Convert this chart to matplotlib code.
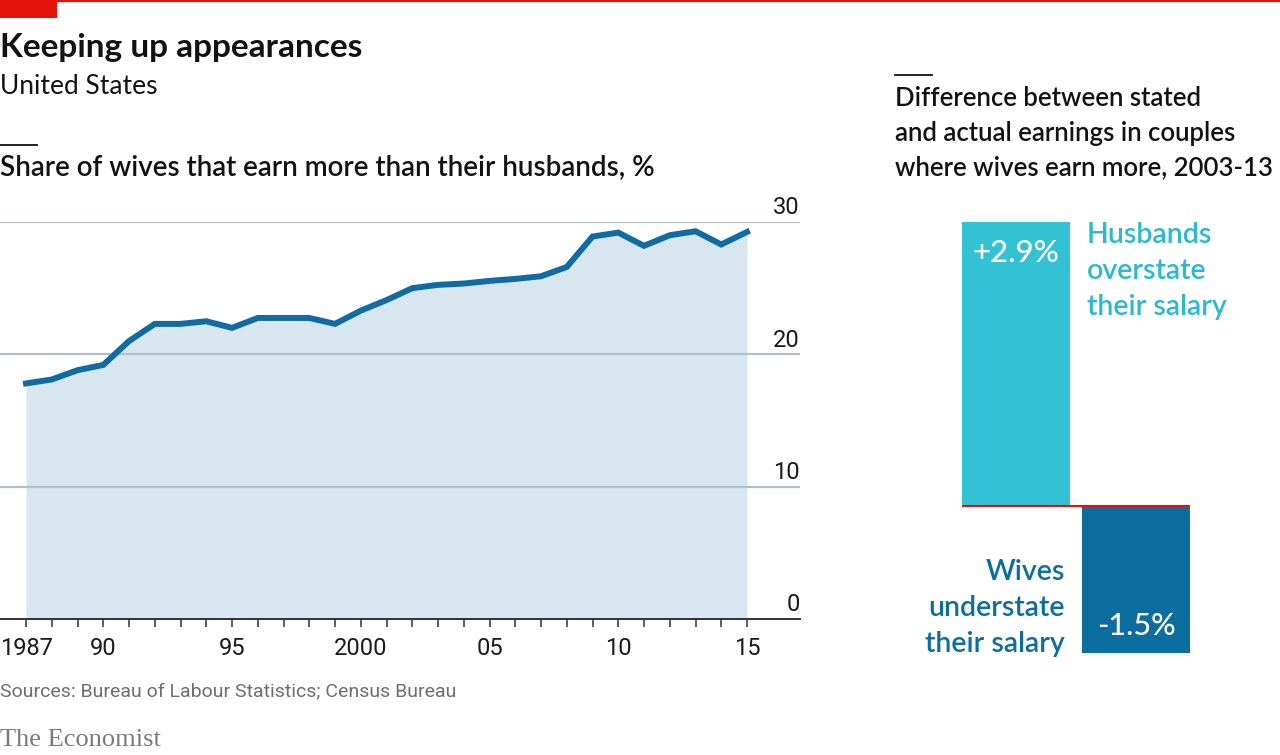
import matplotlib
matplotlib.use("Agg")
import matplotlib.pyplot as plt
from matplotlib.lines import Line2D
from matplotlib.patches import Rectangle

# data
years = list(range(1987, 2016))
share = [17.8, 18.1, 18.8, 19.2, 21.0, 22.3, 22.3, 22.5, 22.0, 22.75,
         22.75, 22.75, 22.3, 23.3, 24.1, 25.0, 25.25, 25.35, 25.55, 25.7,
         25.9, 26.6, 28.9, 29.2, 28.2, 29.0, 29.3, 28.3, 29.25]
tick_years = [1987, 1990, 1995, 2000, 2005, 2010, 2015]
tick_labels = ["1987", "90", "95", "2000", "05", "10", "15"]
y_ticks = [0, 10, 20, 30]

gap_labels = ["+2.9%", "-1.5%"]
gap_values = [2.9, -1.5]

W, H = 1280, 755
RED = "#e3120b"
LINE = "#106ba3"
FILL = "#d7e6ef"
GRID = "#b0c1cd"
CYAN = "#33c1d4"
DARK = "#0c6e9e"
NARROW = ["Liberation Sans Narrow", "Roboto", "DejaVu Sans"]
HEAD = ["Lato", "DejaVu Sans"]


def fx(x):
    return x / W


def fy(y):
    return 1 - y / H


fig = plt.figure(figsize=(12.8, 7.55), dpi=100)

# left panel: line chart
ax = fig.add_axes([0, fy(619), fx(800), (619 - 222) / H])
ppy = (747 - 26) / 28.0
ax.set_xlim(1987 - 26 / ppy, 2015 + 53 / ppy)
ax.set_ylim(0, 30)
ax.fill_between(years, share, 0, color=FILL, lw=0, zorder=1)
for v in y_ticks[1:]:
    ax.axhline(v, color=GRID, lw=1.6, zorder=2)
ax.plot(years, share, color=LINE, lw=4.3, solid_joinstyle="miter", zorder=3)
ax.axhline(0, color="#333333", lw=1.4, zorder=4, clip_on=False)
for s in ax.spines.values():
    s.set_visible(False)
ax.set_yticks([])
ax.set_xticks(tick_years)
ax.set_xticklabels(tick_labels, family=NARROW, fontsize=17, color="#1a1a1a")
ax.set_xticks(years, minor=True)
ax.tick_params(axis="x", which="both", length=6, width=1.1, color="#333333",
               direction="out", pad=7)
for v in y_ticks:
    ax.text(1.0, v + 0.2, str(v), transform=ax.get_yaxis_transform(),
            ha="right", va="bottom", family=NARROW, fontsize=17,
            color="#1a1a1a")
ax.patch.set_alpha(0)

# right panel: bars
bx = fig.add_axes([fx(962), fy(653), 228 / W, (653 - 222) / H])
bx.set_xlim(-0.45, 1.45)
bx.set_ylim(-1.5, 2.9)
bx.bar([0, 1], gap_values, width=0.9, color=[CYAN, DARK], zorder=1)
bx.axhline(0, color=RED, lw=1.5, zorder=3)
bx.axis("off")
bx.text(0, 2.9 - 0.32, gap_labels[0], ha="center", va="center", color="white",
        family=HEAD, fontsize=22.5, fontweight="medium")
bx.text(1, -1.5 + 0.28, gap_labels[1], ha="center", va="center", color="white",
        family=HEAD, fontsize=22, fontweight="medium")
fig.text(fx(1087), fy(271), "Husbands\noverstate\ntheir salary", ha="left",
         va="center", color="#2cb9cf", family=HEAD, fontsize=20.5,
         fontweight="semibold", linespacing=1.48)
fig.text(fx(1065), fy(608), "Wives\nunderstate\ntheir salary", ha="right",
         va="center", color=DARK, family=HEAD, fontsize=20.5,
         fontweight="semibold", linespacing=1.48)

# header and decorations
fig.add_artist(Line2D([0, 1], [fy(1), fy(1)], color=RED, lw=1.6))
fig.add_artist(Rectangle((0, fy(18)), fx(57), 18 / H, color=RED, lw=0))
fig.text(0, fy(47), "Keeping up appearances", family=HEAD, fontsize=24,
         fontweight="bold", va="center", color="#121212")
fig.text(0, fy(87), "United States", family=HEAD, fontsize=19, va="center",
         color="#121212")
fig.add_artist(Line2D([0, fx(37)], [fy(145), fy(145)], color="#121212", lw=1.3))
fig.text(0, fy(168), "Share of wives that earn more than their husbands, %",
         family=HEAD, fontsize=20, fontweight="semibold", va="center",
         color="#121212")
fig.add_artist(Line2D([fx(895), fx(932)], [fy(75), fy(75)], color="#121212",
                      lw=1.3))
fig.text(fx(895), fy(133),
         "Difference between stated\nand actual earnings in couples\n"
         "where wives earn more, 2003-13",
         family=HEAD, fontsize=18.5, fontweight="semibold", va="center",
         color="#121212", linespacing=1.5)

fig.text(0, fy(691), "Sources: Bureau of Labour Statistics; Census Bureau",
         family=NARROW, fontsize=14, color="#6e6e6e", va="center")
fig.text(0, fy(740), "The Economist", family=["Liberation Serif", "DejaVu Serif"],
         fontsize=19, color="#7a7a7a", va="center")

fig.savefig("out.png", dpi=100)
